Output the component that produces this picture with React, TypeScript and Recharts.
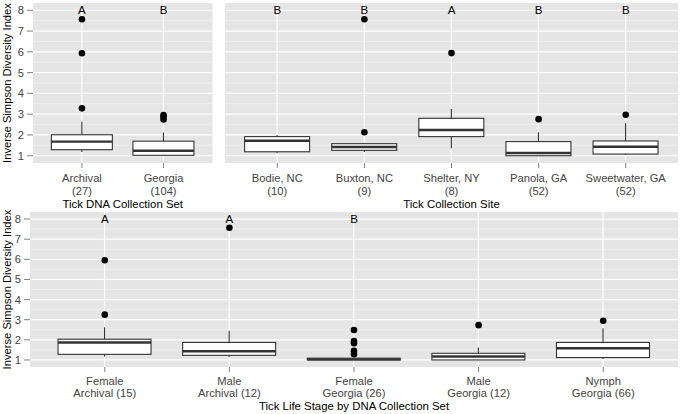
import React from 'react';
import { ComposedChart, Bar, Scatter, XAxis, YAxis, CartesianGrid } from 'recharts';

const FONT = '"Liberation Sans", Arial, Helvetica, sans-serif';
const BOX = '#333333';
const TEXT = '#444444';
const TICK = '#7F7F7F';

const yDomain = [0.65, 8.35];
const majorTicks = [1, 2, 3, 4, 5, 6, 7, 8];
const minorTicks = [1.5, 2.5, 3.5, 4.5, 5.5, 6.5, 7.5];
const letterLevel = 8;

// top left: tick DNA collection set
const dnaSets = ['Archival', 'Georgia'];
const dnaCounts = ['(27)', '(104)'];
const dnaLow = [1.18, 1.0];
const dnaQ1 = [1.29, 1.02];
const dnaMedian = [1.68, 1.24];
const dnaQ3 = [2.01, 1.7];
const dnaHigh = [2.63, 2.12];
const dnaOutliers = [[3.28, 5.93, 7.57], [2.74, 2.88, 2.96]];
const dnaLetters = ['A', 'B'];

// top right: tick collection site
const sites = ['Bodie, NC', 'Buxton, NC', 'Shelter, NY', 'Panola, GA', 'Sweetwater, GA'];
const siteCounts = ['(10)', '(9)', '(8)', '(52)', '(52)'];
const siteLow = [1.12, 1.18, 1.36, 1.0, 1.03];
const siteQ1 = [1.19, 1.26, 1.92, 1.0, 1.08];
const siteMedian = [1.72, 1.42, 2.24, 1.13, 1.43];
const siteQ3 = [1.92, 1.58, 2.8, 1.68, 1.71];
const siteHigh = [2.0, 1.6, 3.25, 2.13, 2.56];
const siteOutliers = [[], [2.13, 7.57], [5.94], [2.76], [2.97]];
const siteLetters = ['B', 'B', 'A', 'B', 'B'];

// bottom: life stage by DNA collection set
const stages = ['Female', 'Male', 'Female', 'Male', 'Nymph'];
const stageSets = ['Archival (15)', 'Archival (12)', 'Georgia (26)', 'Georgia (12)', 'Georgia (66)'];
const stageLow = [1.17, 1.15, 1.0, 1.0, 1.05];
const stageQ1 = [1.28, 1.23, 1.0, 1.0, 1.12];
const stageMedian = [1.87, 1.43, 1.03, 1.17, 1.58];
const stageQ3 = [2.03, 1.87, 1.09, 1.33, 1.87];
const stageHigh = [2.62, 2.45, 1.1, 1.62, 2.57];
const stageOutliers = [[3.25, 5.95], [7.57], [1.28, 1.45, 1.83, 1.94, 2.49], [2.73], [2.95]];
const stageLetters = ['A', 'A', 'B', '', ''];

const buildRows = (
  names: string[], sub: string[], low: number[], q1: number[], med: number[],
  q3: number[], high: number[], outliers: number[][], letters: string[]
) =>
  names.map((n, i) => {
    const row: any = {
      cat: `${n}\n${sub[i]}`,
      box: [q1[i], q3[i]],
      lo: low[i], q1: q1[i], med: med[i], q3: q3[i], hi: high[i],
      letter: letters[i],
      letterY: letters[i] ? letterLevel : null,
    };
    outliers[i].forEach((v, k) => { row[`o${k}`] = v; });
    return row;
  });

const dnaRows = buildRows(dnaSets, dnaCounts, dnaLow, dnaQ1, dnaMedian, dnaQ3, dnaHigh, dnaOutliers, dnaLetters);
const siteRows = buildRows(sites, siteCounts, siteLow, siteQ1, siteMedian, siteQ3, siteHigh, siteOutliers, siteLetters);
const stageRows = buildRows(stages, stageSets, stageLow, stageQ1, stageMedian, stageQ3, stageHigh, stageOutliers, stageLetters);

const BoxShape = (props: any) => {
  const { x, y, width, height, payload } = props;
  if (!payload || !Number.isFinite(y)) return <g />;
  const top = Math.min(y, y + height);
  const h = Math.abs(height);
  const ppu = h / (payload.q3 - payload.q1);
  const toY = (v: number) => top + (payload.q3 - v) * ppu;
  const cx = x + width / 2;
  const my = toY(payload.med);
  return (
    <g>
      <line x1={cx} x2={cx} y1={toY(payload.hi)} y2={top} stroke={BOX} strokeWidth={1.1} />
      <line x1={cx} x2={cx} y1={top + h} y2={toY(payload.lo)} stroke={BOX} strokeWidth={1.1} />
      <rect x={x} y={top} width={width} height={h} fill="#FFFFFF" stroke={BOX} strokeWidth={1.1} />
      <line x1={x} x2={x + width} y1={my} y2={my} stroke={BOX} strokeWidth={2.4} />
    </g>
  );
};

// vertical major grid line drawn at each category centre
const VGrid = (props: any) => {
  const { x, y, width, height } = props;
  const cx = x + width / 2;
  return <line x1={cx} x2={cx} y1={y} y2={y + height} stroke="#FFFFFF" strokeWidth={1.2} />;
};

const OutlierDot = (p: any) =>
  p.cy == null || !Number.isFinite(p.cy) || !Number.isFinite(p.cx)
    ? <g />
    : <circle cx={p.cx} cy={p.cy} r={3.3} fill="#000000" />;

const LetterMark = (p: any) =>
  p.cy == null || !Number.isFinite(p.cy) || !p.payload?.letter
    ? <g />
    : (
      <text x={p.cx} y={p.cy} dy="0.36em" textAnchor="middle" fontSize={11.5} fontFamily={FONT} fill="#000000">
        {p.payload.letter}
      </text>
    );

interface PanelProps {
  rows: any[];
  left: number;
  top: number;
  width: number;
  height: number;
  margin: { top: number; right: number; bottom: number; left: number };
  yWidth: number;
  showY: boolean;
  title: string;
  line1: number;
  lineGap: number;
  titleDy: number;
}

const Panel = ({ rows, left, top, width, height, margin, yWidth, showY, title, line1, lineGap, titleDy }: PanelProps) => {
  const plotW = width - margin.left - margin.right - (showY ? yWidth : 0);
  const pad = (plotW / (rows.length + 0.2)) * 0.1;
  const nOut = Math.max(...rows.map((r) => Object.keys(r).filter((k) => /^o\d+$/.test(k)).length));

  return (
    <div style={{ position: 'absolute', left, top }}>
      <ComposedChart width={width} height={height} data={rows} margin={margin} barCategoryGap="12.5%">
        <CartesianGrid vertical={false} horizontalValues={minorTicks} stroke="#F2F2F2" strokeWidth={0.7} fill="#E5E5E5" fillOpacity={1} />
        <CartesianGrid vertical={false} horizontalValues={majorTicks} stroke="#FFFFFF" strokeWidth={1.2} />
        <XAxis
          dataKey="cat"
          type="category"
          allowDuplicatedCategory={false}
          interval={0}
          height={47}
          padding={{ left: pad, right: pad }}
          axisLine={false}
          tickLine={{ stroke: TICK, strokeWidth: 1 }}
          tickSize={5}
          tickMargin={2}
          tick={(p: any) => {
            const lines = String(p.payload.value).split('\n');
            return (
              <text x={p.x} y={p.y} textAnchor="middle" fill={TEXT} fontSize={11.2} fontFamily={FONT}>
                {lines.map((l, i) => (
                  <tspan key={i} x={p.x} y={p.y + line1 + i * lineGap}>{l}</tspan>
                ))}
              </text>
            );
          }}
          label={{
            content: (p: any) => {
              const vb = p.viewBox || {};
              return (
                <text x={vb.x + vb.width / 2} y={vb.y + titleDy} textAnchor="middle" fill="#000000" fontSize={11.4} fontFamily={FONT}>
                  {title}
                </text>
              );
            },
          }}
        />
        <YAxis
          type="number"
          domain={yDomain}
          allowDataOverflow
          ticks={majorTicks}
          interval={0}
          hide={!showY}
          width={yWidth}
          axisLine={false}
          tickLine={{ stroke: TICK, strokeWidth: 1 }}
          tickSize={6}
          tickMargin={3}
          tick={{ fill: TEXT, fontSize: 11.2, fontFamily: FONT }}
          label={{
            content: (p: any) => {
              const vb = p.viewBox || {};
              const lx = vb.x + 10.5;
              const ly = vb.y + vb.height / 2;
              return (
                <text x={lx} y={ly} transform={`rotate(-90, ${lx}, ${ly})`} textAnchor="middle" fill="#000000" fontSize={11.2} fontFamily={FONT}>
                  Inverse Simpson Diversity Index
                </text>
              );
            },
          }}
        />
        <Bar dataKey="box" isAnimationActive={false} shape={BoxShape} background={VGrid} />
        {Array.from({ length: nOut }, (_, k) => (
          <Scatter key={k} dataKey={`o${k}`} isAnimationActive={false} shape={OutlierDot} />
        ))}
        <Scatter dataKey="letterY" isAnimationActive={false} shape={LetterMark} />
      </ComposedChart>
    </div>
  );
};

export default function App() {
  return (
    <div style={{ position: 'absolute', left: 0, top: 0, width: 680, height: 414, background: '#FFFFFF', fontFamily: FONT, overflow: 'hidden' }}>
      <Panel
        rows={dnaRows}
        left={0}
        top={0}
        width={215}
        height={210}
        margin={{ top: 3, right: 2.5, bottom: 0, left: 0 }}
        yWidth={33}
        showY
        title="Tick DNA Collection Set"
        line1={12}
        lineGap={12.5}
        titleDy={45}
      />
      <Panel
        rows={siteRows}
        left={215}
        top={0}
        width={465}
        height={210}
        margin={{ top: 3, right: 2, bottom: 0, left: 10 }}
        yWidth={0}
        showY={false}
        title="Tick Collection Site"
        line1={12}
        lineGap={12.5}
        titleDy={45}
      />
      <Panel
        rows={stageRows}
        left={0}
        top={208}
        width={680}
        height={206}
        margin={{ top: 4, right: 2, bottom: 0, left: 0 }}
        yWidth={30}
        showY
        title="Tick Life Stage by DNA Collection Set"
        line1={11}
        lineGap={11.5}
        titleDy={42.5}
      />
    </div>
  );
}
